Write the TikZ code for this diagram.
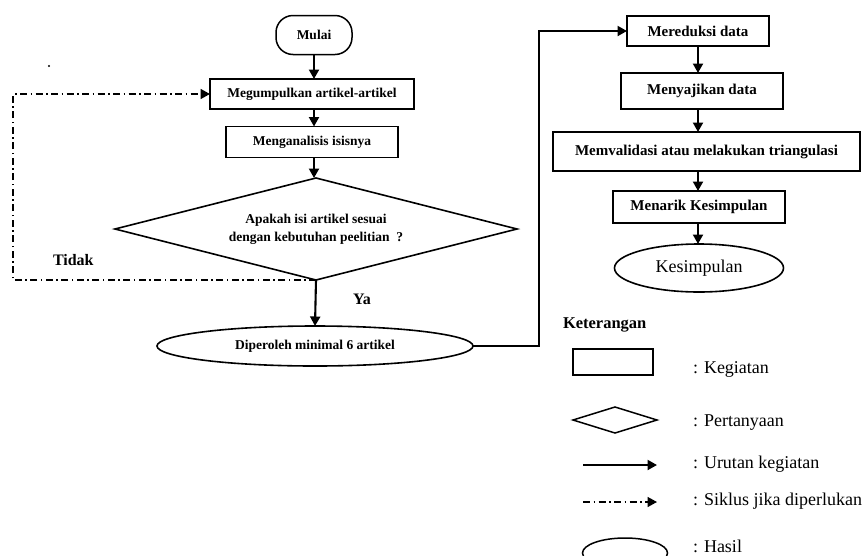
\documentclass[tikz,border=0pt]{standalone}
\usepackage{fontspec}
\setmainfont{Liberation Serif}
\usetikzlibrary{arrows.meta,shapes.geometric}
\begin{document}
\begin{tikzpicture}[x=1pt,y=-1pt,
  every node/.style={inner sep=0pt, outer sep=0pt},
  lfont/.style={font=\bfseries\fontsize{13.5}{18}\selectfont},
  box/.style={draw, line width=1.5pt, lfont},
  rbox/.style={draw, line width=1.5pt, font=\bfseries\fontsize{15}{17}\selectfont},
  flow/.style={line width=2.1pt, -{Triangle[length=9.5pt,width=10pt]}},
  cyc/.style={line width=1.6pt, dash pattern=on 7pt off 3.5pt on 1.5pt off 3.5pt, -{Triangle[length=9.5pt,width=10pt]}},
  lbl/.style={font=\bfseries\fontsize{16}{18}\selectfont, anchor=base west},
  leg/.style={font=\fontsize{18}{20}\selectfont, anchor=base west}
]
\useasboundingbox (0,0) rectangle (862,555);
\fill[white] (0,0) rectangle (862,555);

% stray dot
\fill (49,66) circle[radius=1.2pt];

% left column
\node[draw, line width=1.5pt, rounded corners=17pt, minimum width=76pt, minimum height=39pt, lfont] (mulai) at (314,35) {Mulai};
\node[box, minimum width=204pt, minimum height=30pt] (megum) at (312,94) {Megumpulkan artikel-artikel};
\node[box, minimum width=172pt, minimum height=31pt] (mengan) at (312,142) {Menganalisis isisnya};
\node[diamond, draw, line width=1.6pt, minimum width=402pt, minimum height=102pt, aspect=3.94, align=center, lfont] (dia) at (316,229) {Apakah isi artikel sesuai\\dengan kebutuhan peelitian\ \ ?};
\node[ellipse, draw, line width=1.6pt, minimum width=316pt, minimum height=40pt, lfont] (dip) at (315,346) {Diperoleh minimal 6 artikel};

% right column
\node[rbox, minimum width=142pt, minimum height=30pt] (mered) at (698,31) {Mereduksi data};
\node[rbox, minimum width=162pt, minimum height=36pt] (menyaj) at (702,91) {Menyajikan data};
\node[rbox, minimum width=307pt, minimum height=39pt] (memval) at (706.5,151.5) {Memvalidasi atau melakukan triangulasi};
\node[rbox, minimum width=172pt, minimum height=32pt] (menarik) at (699,207) {Menarik Kesimpulan};
\node[ellipse, draw, line width=1.6pt, minimum width=169pt, minimum height=48pt, font=\fontsize{18}{20}\selectfont] (kesim) at (699,268) {Kesimpulan};

% labels
\node[lbl] (tidak) at (53,265) {Tidak};
\node[lbl] (ya) at (353,304) {Ya};
\node[lbl, font=\bfseries\fontsize{16.5}{18}\selectfont] (ket) at (563,328) {Keterangan};

% connectors
\coordinate (loopc) at (13,280);
\coordinate (turn) at (539,346);
\draw[flow] (mulai) -- (mulai |- megum.north);
\draw[flow] (megum.south -| mulai) -- (mulai |- mengan.north);
\draw[flow] (mengan.south -| mulai) -- (mulai |- dia.north);
\draw[flow] (dia.south) -- (dip.north);
\draw[cyc] (dia.south) -- (loopc) |- (megum.west);
\draw[flow] (dip.east) -- (turn) |- (mered.west);
\draw[flow] (mered) -- (mered |- menyaj.north);
\draw[flow] (menyaj.south -| mered) -- (mered |- memval.north);
\draw[flow] (memval.south -| mered) -- (mered |- menarik.north);
\draw[flow] (menarik.south -| mered) -- (mered |- kesim.north);

% legend
\node[draw, line width=1.5pt, minimum width=80pt, minimum height=26pt] (lrect) at (613,362) {};
\node[leg] (t1) at (693,373) {: Kegiatan};
\node[diamond, draw, line width=1.5pt, minimum width=84pt, minimum height=26pt, aspect=3.2] (ldia) at (615,420) {};
\node[leg] (t2) at (693,426) {: Pertanyaan};
\coordinate (a1s) at (583,465);
\coordinate (a1e) at (657,465);
\draw[flow] (a1s) -- (a1e);
\node[leg] (t3) at (693,468) {: Urutan kegiatan};
\coordinate (a2s) at (583,502);
\coordinate (a2e) at (657,502);
\draw[cyc] (a2s) -- (a2e);
\node[leg] (t4) at (693,505) {: Siklus jika diperlukan};
\node[ellipse, draw, line width=1.5pt, minimum width=85pt, minimum height=30pt] (lell) at (625,553) {};
\node[leg] (t5) at (693,552) {: Hasil};
\end{tikzpicture}
\end{document}
